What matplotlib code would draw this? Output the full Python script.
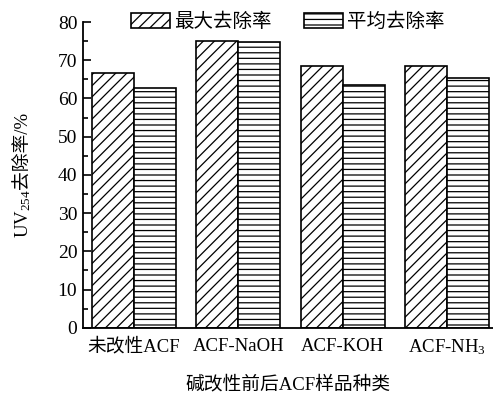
import numpy as np
import matplotlib
matplotlib.use("Agg")
import matplotlib.pyplot as plt
from matplotlib.ticker import MultipleLocator

categories = ["未改性ACF", "ACF-NaOH", "ACF-KOH", "ACF-NH$_3$"]
max_removal = [66.6, 75.1, 68.6, 68.6]
avg_removal = [62.7, 74.9, 63.5, 65.3]
series_names = ["最大去除率", "平均去除率"]

plt.rcParams["font.family"] = ["Liberation Serif", "Noto Sans CJK SC"]
plt.rcParams["mathtext.fontset"] = "custom"
plt.rcParams["mathtext.rm"] = "Liberation Serif"
plt.rcParams["mathtext.it"] = "Liberation Serif:italic"
plt.rcParams["hatch.linewidth"] = 0.9

fig = plt.figure(figsize=(4.93, 3.94), dpi=100)
ax = fig.add_axes([0.168, 0.168, 0.832, 0.776])

x = np.arange(len(categories))
w = 0.402
ax.bar(x - w / 2, max_removal, w, facecolor="white", edgecolor="black",
       linewidth=1.2, hatch="///", label=series_names[0])
ax.bar(x + w / 2, avg_removal, w, facecolor="white", edgecolor="black",
       linewidth=1.2, hatch="---", label=series_names[1])

ax.set_xlim(-0.49, 3.44)
ax.set_ylim(0, 80)
ax.yaxis.set_major_locator(MultipleLocator(10))
ax.yaxis.set_minor_locator(MultipleLocator(5))
ax.tick_params(axis="y", which="major", direction="in", length=6, width=1.2,
               labelsize=14, pad=4)
ax.tick_params(axis="y", which="minor", direction="in", length=3.5, width=1.2)
ax.tick_params(axis="x", length=0, labelsize=13.5, pad=7)
ax.set_xticks(x)
ax.set_xticklabels(categories)

for side in ("top", "right"):
    ax.spines[side].set_visible(False)
for side in ("left", "bottom"):
    ax.spines[side].set_linewidth(1.3)

ax.set_xlabel("碱改性前后ACF样品种类", fontsize=13.5, labelpad=13)

# y-axis label built from two pieces sharing one baseline, so the subscript
# and the CJK text can each use a font that has their glyphs
renderer = fig.canvas.get_renderer()
ylab_parts = ["UV$_{254}$", "去除率/%"]
baseline_x = 0.057
pieces = []
for s in ylab_parts:
    t = fig.text(baseline_x, 0, s, rotation=90, fontsize=13.5,
                 ha="left", va="baseline", rotation_mode="anchor")
    pieces.append(t)
lengths = [p.get_window_extent(renderer).height for p in pieces]
total = sum(lengths)
ax_bbox = ax.get_position()
center_px = (ax_bbox.y0 + ax_bbox.y1) / 2 * fig.bbox.height
y_px = center_px - total / 2
for p, h in zip(pieces, lengths):
    p.set_y(y_px / fig.bbox.height)
    y_px += h

ax.legend(loc="center", bbox_to_anchor=(0.5, 1.0), ncol=2, frameon=False,
          fontsize=14, handlelength=2.0, handleheight=0.75,
          handletextpad=0.2, columnspacing=1.7, borderaxespad=0)

fig.savefig("out.png", dpi=100)
